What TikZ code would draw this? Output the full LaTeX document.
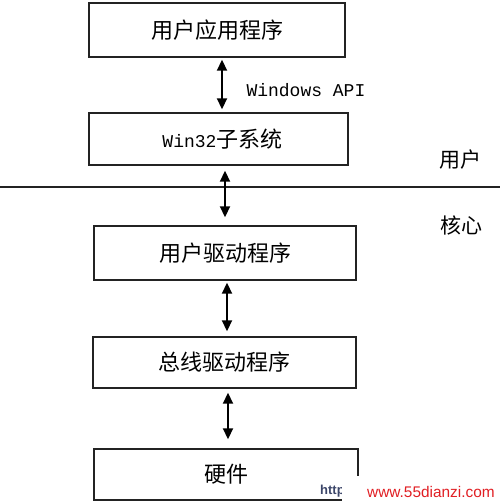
\documentclass[tikz,border=0pt]{standalone}
\usepackage{fontspec}
\setmainfont{Noto Sans CJK SC}
\newfontfamily\cjk{Noto Sans CJK SC}
\newfontfamily\monofont{Liberation Mono}
\newfontfamily\wmfont{Liberation Sans}
\usetikzlibrary{positioning,arrows.meta}
\definecolor{boxline}{RGB}{35,35,35}
\definecolor{wmred}{RGB}{225,30,35}
\definecolor{wmblue}{RGB}{60,70,105}

\begin{document}
\begin{tikzpicture}[
    x=1pt, y=-1pt,
    layer/.style={
        draw=boxline,
        line width=1.4pt,
        inner sep=0pt,
        font=\cjk\fontsize{22}{22}\selectfont
    },
    link/.style={
        {Triangle[length=11pt,width=10pt]}-{Triangle[length=11pt,width=10pt]},
        line width=1.8pt,
        shorten <=2pt,
        shorten >=3pt
    },
    side/.style={
        font=\cjk\fontsize{21}{21}\selectfont
    }
]

\useasboundingbox (0,0) rectangle (500,503);

% ============================================================
% LAYERS
% ============================================================

\node[layer, minimum width=256pt, minimum height=54pt] (app) at (217,30)
{用户应用程序};

\node[layer, minimum width=259pt, minimum height=52pt] (win32) at (218.5,139)
{\hspace*{8pt}{\monofont\fontsize{18}{18}\selectfont Win32}子系统};

\node[layer, minimum width=262pt, minimum height=54pt] (drv) at (225,253)
{用户驱动程序};

\node[layer, minimum width=263pt, minimum height=51pt] (bus) at (224.5,362.5)
{总线驱动程序};

\node[layer, minimum width=264pt, minimum height=51pt] (hw) at (226,474.5)
{硬件};

% ============================================================
% USER / KERNEL BOUNDARY
% ============================================================

\coordinate (sepL) at (0,187);
\coordinate (sepR) at (500,187);
\draw[boxline, line width=1.4pt] (sepL) -- (sepR);

\node[side] (user)   at (460,160) {用户};
\node[side] (kernel) at (461,225) {核心};

% ============================================================
% CALLS BETWEEN LAYERS
% ============================================================

\draw[link]
([xshift=5pt]app.south) -- ([xshift=5pt]app.south |- win32.north);

\node[anchor=west, font=\monofont\fontsize{18}{18}\selectfont] (api) at (243,90)
{Windows API};

\draw[link, shorten <=5pt, shorten >=8pt]
([xshift=6.5pt]win32.south) -- ([xshift=6.5pt]win32.south |- drv.north);

\draw[link, shorten >=5pt]
([xshift=2pt]drv.south) -- ([xshift=2pt]drv.south |- bus.north);

\draw[link, shorten <=4pt, shorten >=9pt]
([xshift=3.5pt]bus.south) -- ([xshift=3.5pt]bus.south |- hw.north);

% ============================================================
% WATERMARK
% ============================================================

\node[anchor=west, inner sep=0pt, text=wmblue, font=\wmfont\bfseries\fontsize{13}{13}\selectfont] (http) at (320,491)
{http};

\node[anchor=north west, fill=white, inner sep=0pt, minimum width=158pt, minimum height=27pt] (patch) at (342,476) {};

\node[anchor=west, inner sep=0pt, text=wmred, font=\wmfont\fontsize{15.4}{15.4}\selectfont] (site) at (367,492)
{www.55dianzi.com};

\end{tikzpicture}
\end{document}
